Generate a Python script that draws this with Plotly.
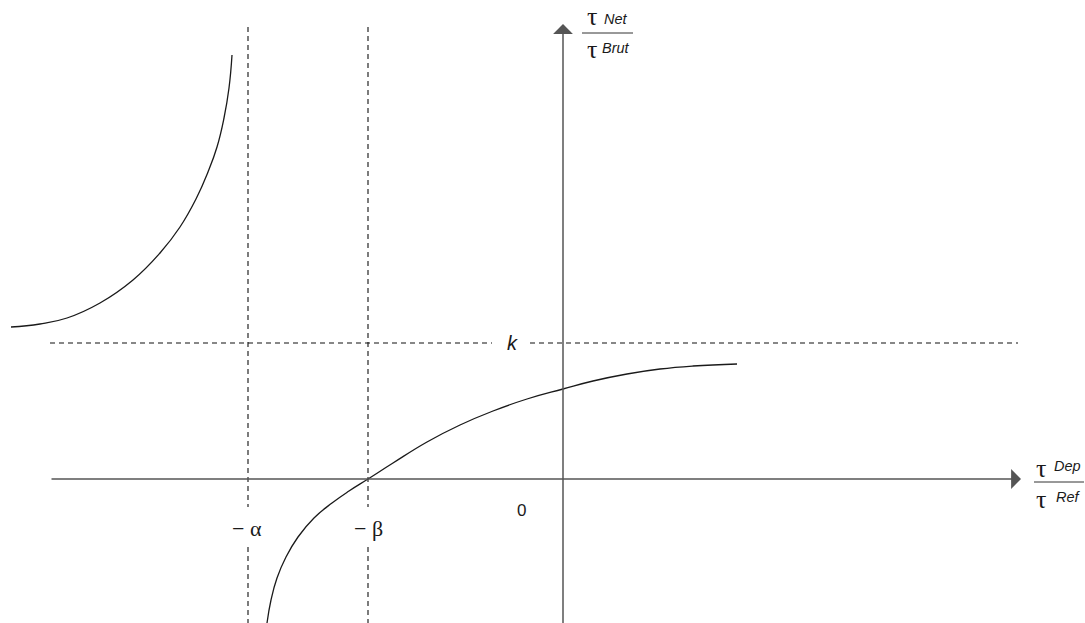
import plotly.graph_objects as go

# schematic units: origin at the axes crossing
ALPHA = 3.15
BETA = 1.95
K = 1.36

# branch left of -alpha
left_x = [-5.52, -5.23, -4.96, -4.63, -4.30, -4.03, -3.83, -3.67, -3.55, -3.46, -3.39, -3.34, -3.31]
left_y = [1.52, 1.55, 1.61, 1.76, 1.99, 2.26, 2.52, 2.80, 3.07, 3.32, 3.61, 3.91, 4.24]

# branch right of -alpha
right_x = [-2.96, -2.92, -2.86, -2.77, -2.65, -2.49, -2.31, -2.14, -1.95, -1.70, -1.36,
           -1.03, -0.70, -0.36, 0.00, 0.30, 0.64, 0.97, 1.30, 1.74]
right_y = [-1.44, -1.21, -0.99, -0.78, -0.58, -0.39, -0.24, -0.12, 0.00, 0.16, 0.37,
           0.54, 0.68, 0.80, 0.90, 0.98, 1.05, 1.10, 1.13, 1.15]

XR = [-5.63, 5.22]
YR = [-1.44, 4.79]

curve = dict(color="#1a1a1a", width=1.3)
axis_col = "#555555"
dash = dict(color="#111111", width=1.1, dash="5px,4px")

fig = go.Figure()

fig.add_trace(go.Scatter(x=left_x, y=left_y, mode="lines",
                         line=dict(shape="spline", smoothing=1.3, **curve)))
fig.add_trace(go.Scatter(x=right_x, y=right_y, mode="lines",
                         line=dict(shape="spline", smoothing=1.3, **curve)))

# dashed asymptotes / guides
for xv in (-ALPHA, -BETA):
    fig.add_trace(go.Scatter(x=[xv, xv], y=[4.52, -0.28], mode="lines", line=dash))
    fig.add_trace(go.Scatter(x=[xv, xv], y=[-0.68, -1.5], mode="lines", line=dash))
fig.add_trace(go.Scatter(x=[-5.13, -0.71], y=[K, K], mode="lines", line=dash))
fig.add_trace(go.Scatter(x=[-0.33, 4.55], y=[K, K], mode="lines", line=dash))

# axes with arrows
fig.add_annotation(x=4.58, y=0, ax=-5.13, ay=0, xref="x", yref="y", axref="x", ayref="y",
                   text="", showarrow=True, arrowhead=1, arrowsize=2.2, arrowwidth=1.5,
                   arrowcolor=axis_col)
fig.add_annotation(x=0, y=4.55, ax=0, ay=-1.5, xref="x", yref="y", axref="x", ayref="y",
                   text="", showarrow=True, arrowhead=1, arrowsize=2.2, arrowwidth=1.5,
                   arrowcolor=axis_col)

serif = dict(family="Liberation Serif", size=26, color="#1a1a1a")
sans = dict(family="Liberation Sans", size=14.5, color="#1a1a1a")
greek = dict(family="Liberation Serif", size=22, color="#1a1a1a")

labels = [
    (-3.16, -0.49, "\u2212 \u03b1", greek),
    (-1.95, -0.49, "\u2212 \u03b2", greek),
    (-0.42, -0.31, "0", dict(family="Liberation Sans", size=17, color="#1a1a1a")),
    (-0.51, 1.36, "<i>k</i>", dict(family="Liberation Sans", size=20, color="#1a1a1a")),
    (0.29, 4.63, "\u03c4", serif),
    (0.53, 4.60, "<i>Net</i>", sans),
    (0.29, 4.30, "\u03c4", serif),
    (0.53, 4.31, "<i>Brut</i>", sans),
    (4.78, 0.11, "\u03c4", serif),
    (5.04, 0.13, "<i>Dep</i>", sans),
    (4.78, -0.20, "\u03c4", serif),
    (5.05, -0.18, "<i>Ref</i>", sans),
]
for x, y, t, f in labels:
    fig.add_annotation(x=x, y=y, text=t, showarrow=False, font=f,
                       xanchor="center", yanchor="middle")

# fraction bars
fig.add_shape(type="line", x0=0.19, x1=0.70, y0=4.46, y1=4.46, line=dict(color="#333333", width=1))
fig.add_shape(type="line", x0=4.71, x1=5.21, y0=-0.03, y1=-0.03, line=dict(color="#333333", width=1))

fig.update_layout(
    width=1085, height=623,
    margin=dict(l=0, r=0, t=0, b=0),
    paper_bgcolor="white", plot_bgcolor="white",
    showlegend=False,
    hovermode=False,
    xaxis=dict(range=XR, visible=False, showgrid=False, zeroline=False),
    yaxis=dict(range=YR, visible=False, showgrid=False, zeroline=False),
)

# drop the default page margin so the figure fills the window exactly
fig.write_html("out.html", config={"displayModeBar": False},
               post_script="document.body.style.margin='0';document.body.style.overflow='hidden';")
